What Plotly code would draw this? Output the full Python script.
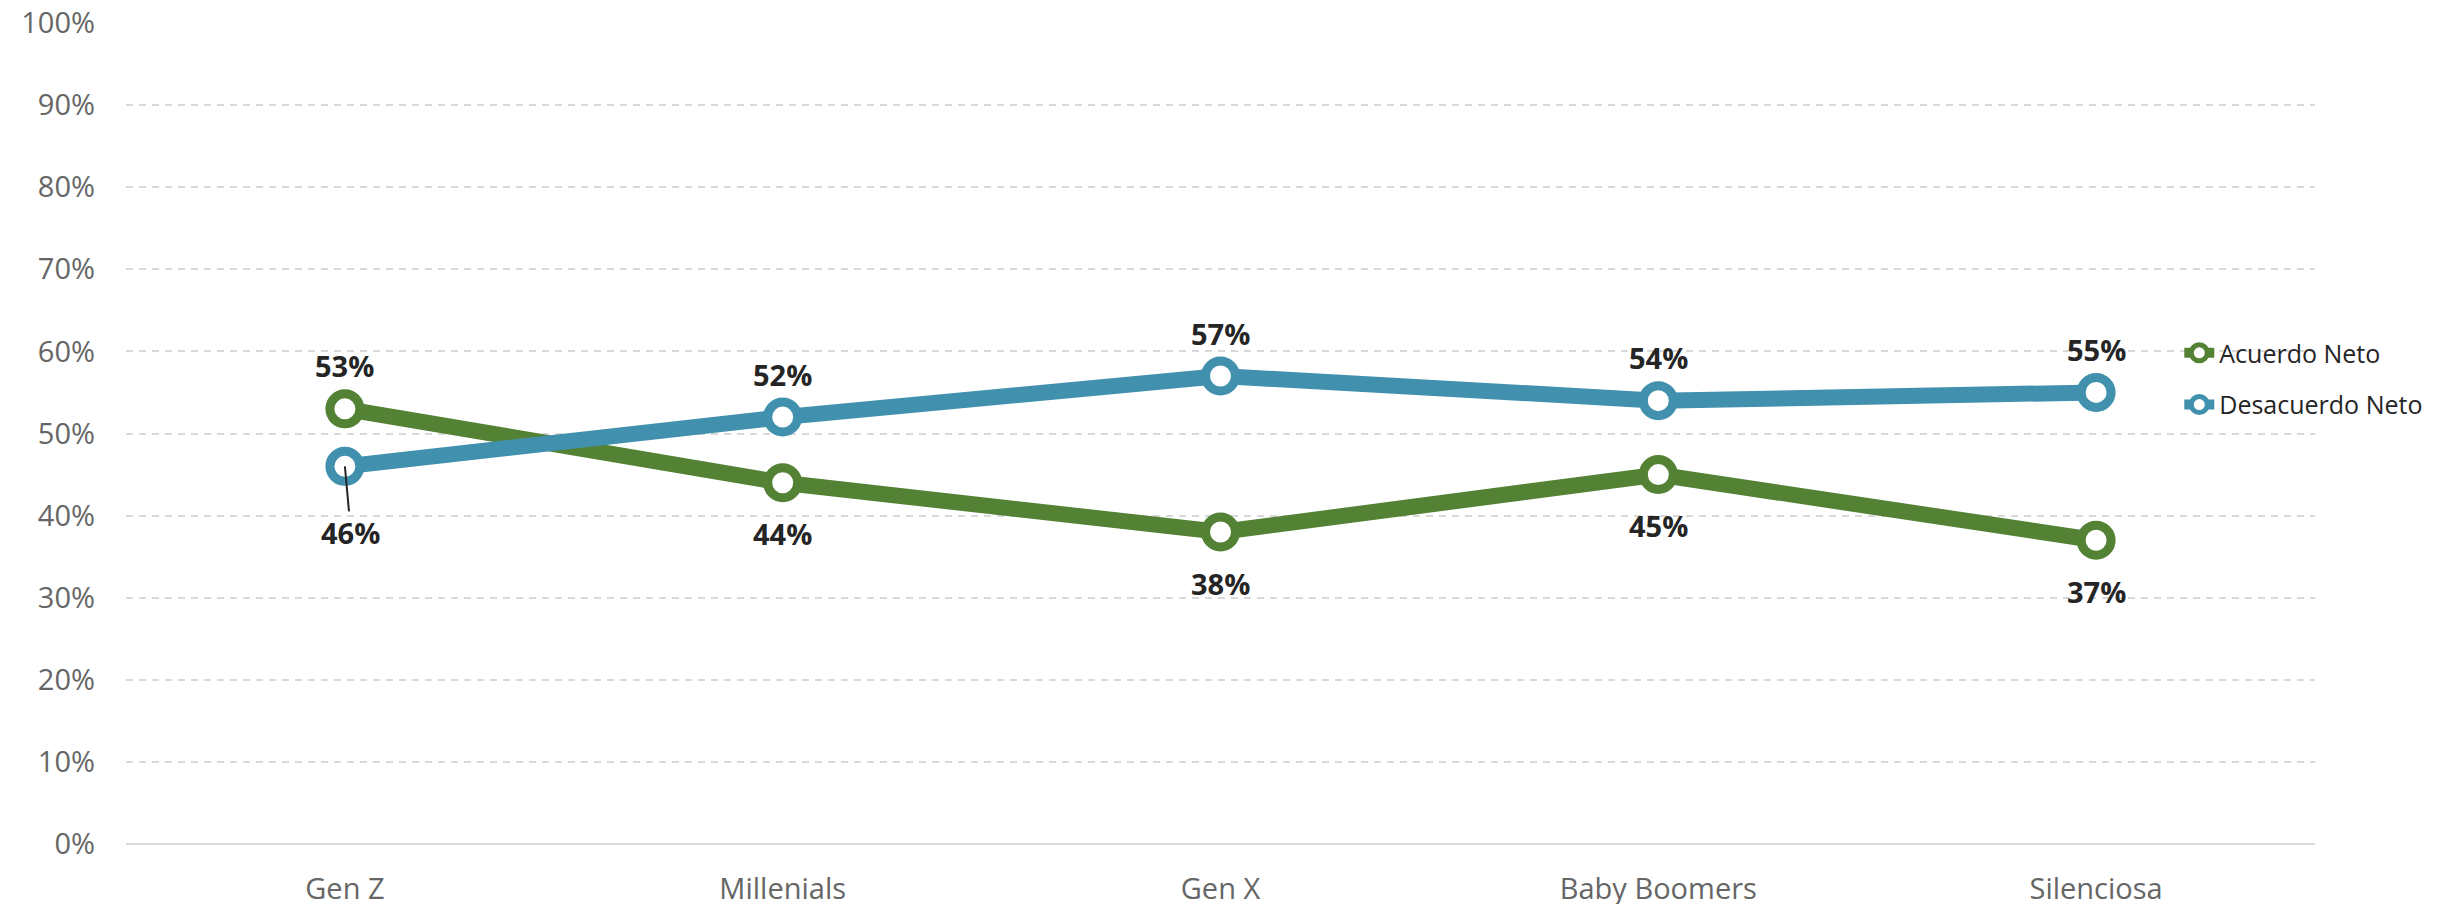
import plotly.graph_objects as go

categories = ["Gen Z", "Millenials", "Gen X", "Baby Boomers", "Silenciosa"]
acuerdo = [0.53, 0.44, 0.38, 0.45, 0.37]
desacuerdo = [0.46, 0.52, 0.57, 0.54, 0.55]
y_ticks = [i / 10 for i in range(11)]

GREEN = "#548235"
BLUE = "#4190AD"
FONT = "Open Sans"
LABEL_COLOR = "#252525"

# label placement: +1 above the point, -1 below
acuerdo_side = [1, -1, -1, -1, -1]
desacuerdo_side = [0, 1, 1, 1, 1]  # 0 -> leader-line label

fig = go.Figure()
fig.add_trace(go.Scatter(
    x=categories, y=acuerdo, name="Acuerdo Neto", mode="lines+markers",
    line=dict(color=GREEN, width=16),
    marker=dict(size=30, color="white", line=dict(color=GREEN, width=9)),
    legend="legend", cliponaxis=False,
))
fig.add_trace(go.Scatter(
    x=categories, y=desacuerdo, name="Desacuerdo Neto", mode="lines+markers",
    line=dict(color=BLUE, width=16),
    marker=dict(size=30, color="white", line=dict(color=BLUE, width=9)),
    legend="legend2", cliponaxis=False,
))

lab_font = dict(family=FONT, size=29, color=LABEL_COLOR)
for series, sides in ((acuerdo, acuerdo_side), (desacuerdo, desacuerdo_side)):
    for cat, v, s in zip(categories, series, sides):
        if s == 0:
            fig.add_annotation(
                x=cat, y=v, text=f"<b>{v:.0%}</b>",
                showarrow=True, arrowhead=0, arrowwidth=2, arrowcolor=LABEL_COLOR,
                ax=6, ay=66, font=lab_font,
            )
        else:
            fig.add_annotation(
                x=cat, y=v, text=f"<b>{v:.0%}</b>", showarrow=False,
                yshift=43 if s > 0 else -51, font=lab_font,
            )

fig.update_layout(
    width=2450, height=904,
    margin=dict(l=118, r=143, t=15, b=68),
    paper_bgcolor="white", plot_bgcolor="white",
    font=dict(family=FONT),
    showlegend=True,
    legend=dict(x=0.938, y=0.598, xanchor="left", yanchor="middle",
                font=dict(family=FONT, size=25, color=LABEL_COLOR),
                bgcolor="rgba(0,0,0,0)", itemsizing="trace"),
    legend2=dict(x=0.938, y=0.535, xanchor="left", yanchor="middle",
                 font=dict(family=FONT, size=25, color=LABEL_COLOR),
                 bgcolor="rgba(0,0,0,0)", itemsizing="trace"),
)
fig.update_xaxes(
    range=[-0.5, 4.5], automargin=False, ticklabeloverflow="allow",
    showgrid=False, showline=False, zeroline=False,
    tickfont=dict(family=FONT, size=29, color="#666666"),
    ticks="", ticklabelstandoff=25,
)
fig.update_yaxes(
    range=[0, 1], tickvals=y_ticks, tickformat=".0%", automargin=False,
    ticklabeloverflow="allow",
    showgrid=True, gridcolor="#D9D9D9", gridwidth=2, griddash="7px,6px",
    zeroline=True, zerolinecolor="#D9D9D9", zerolinewidth=2,
    showline=False, ticks="", ticklabelstandoff=30,
    tickfont=dict(family=FONT, size=29, color="#666666"),
)

fig.write_html("out.html")
